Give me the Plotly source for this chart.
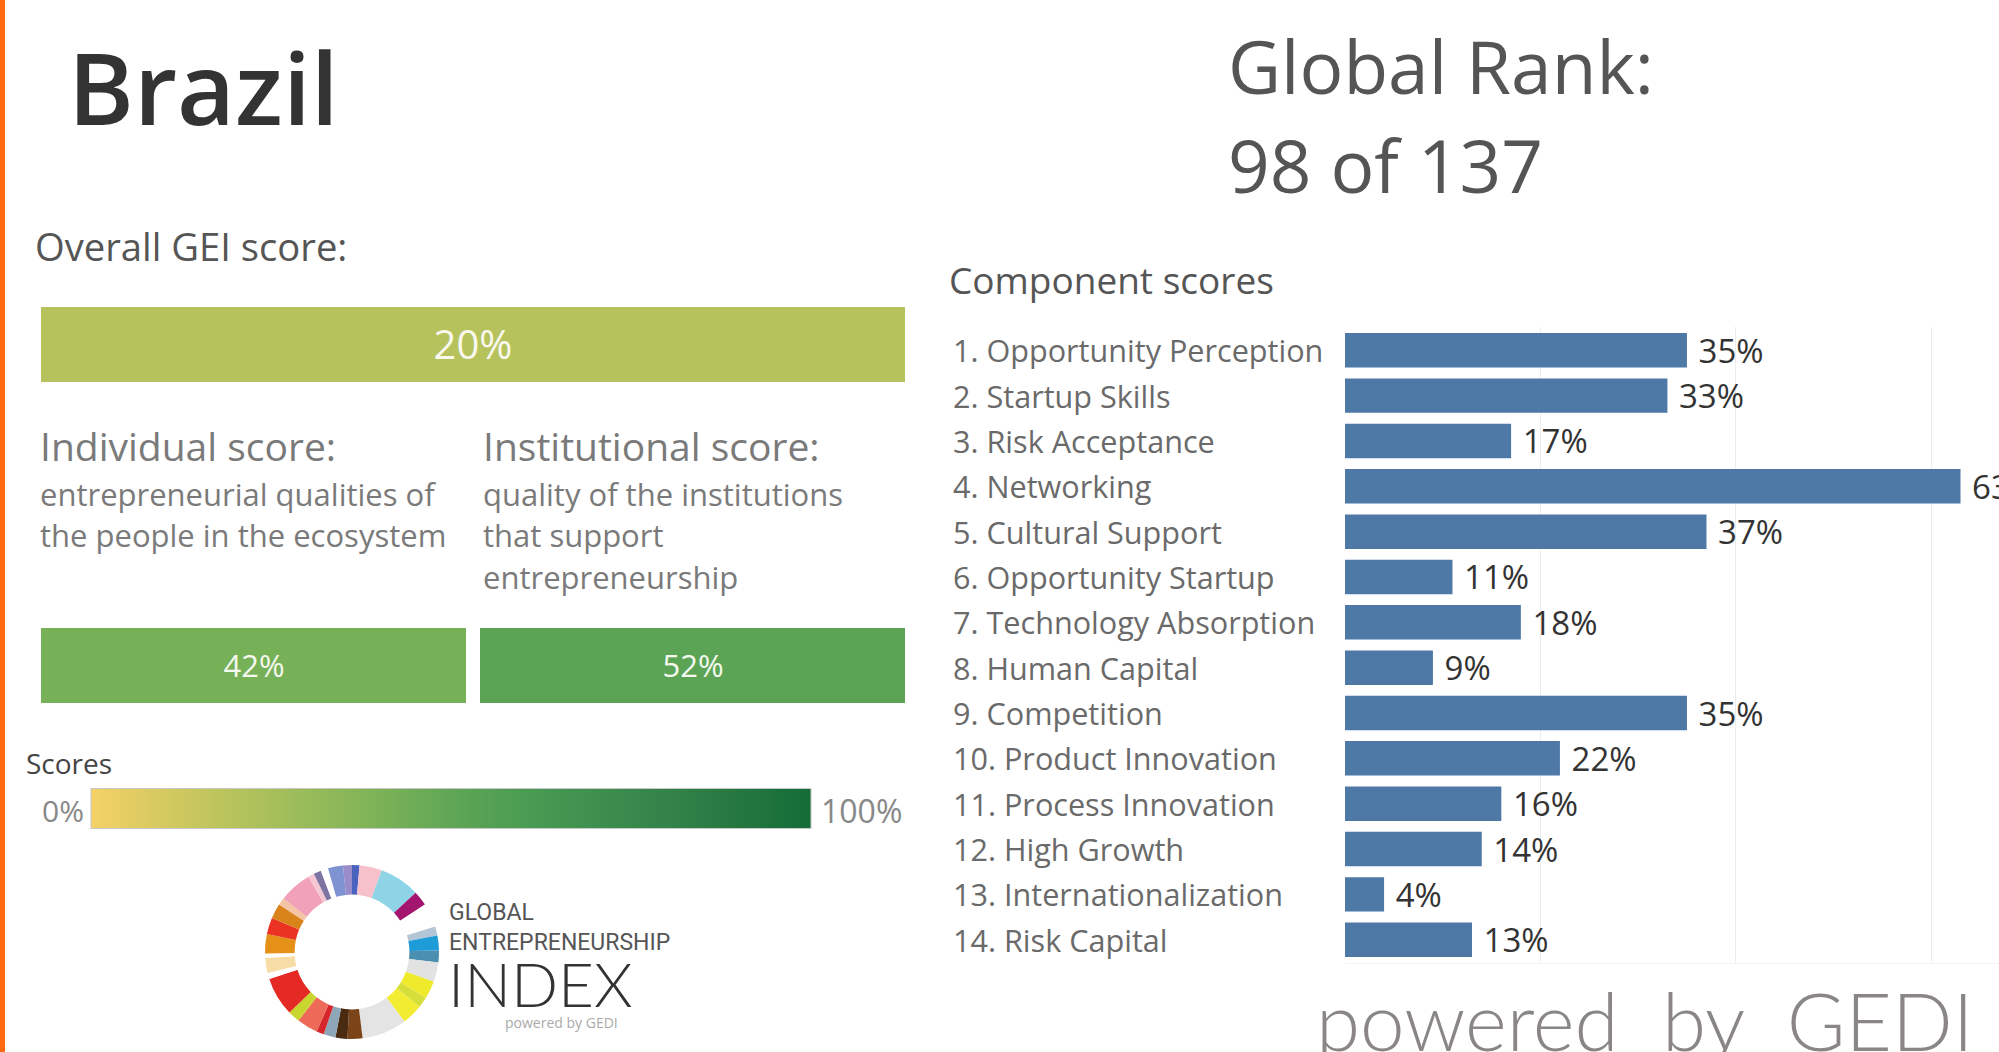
import plotly.graph_objects as go

W, H = 1999, 1052

# ---------------- data ----------------
country = "Brazil"
global_rank = 98
n_countries = 137
overall_label = ["Overall"]
overall_score = [20]
pillar_names = ["Individual", "Institutional"]
pillar_scores = [42, 52]
components = [
    "1. Opportunity Perception", "2. Startup Skills", "3. Risk Acceptance",
    "4. Networking", "5. Cultural Support", "6. Opportunity Startup",
    "7. Technology Absorption", "8. Human Capital", "9. Competition",
    "10. Product Innovation", "11. Process Innovation", "12. High Growth",
    "13. Internationalization", "14. Risk Capital",
]
component_scores = [35, 33, 17, 63, 37, 11, 18, 9, 35, 22, 16, 14, 4, 13]
grid_ticks = [0, 20, 40, 60]
score_scale_colors = ["#f4d166", "#d5ca60", "#b6c35c", "#98bb59", "#7cb257", "#60a656",
                      "#4b9c53", "#3f8f4f", "#33834a", "#257740", "#146c36"]
# decorative logo ring (segment sizes in degrees and colours)
logo_sizes = [5, 15, 27, 10, 16, 6, 10, 8, 13, 12, 7, 14, 30, 10, 8, 8, 5, 14, 8, 26,
              4, 10, 3, 13, 11, 10, 5, 22, 4, 5, 5, 10, 6]
logo_colors = ["#4A63BE", "#F7C1CC", "#8ED4E6", "#A3156E", "#FFFFFF", "#B4C6D6", "#1E9CD7",
               "#4A8FAF", "#E2E2E2", "#F0EA2C", "#D6DE3A", "#F2EC33", "#E4E4E4", "#7A4318",
               "#4B2A12", "#8DA6B8", "#D6262C", "#EC6A57", "#C8D62F", "#E52A26", "#FFFFFF",
               "#F8DCA6", "#FFFFFF", "#E59016", "#EA3323", "#D8841A", "#F5C4A4", "#F2A2B8",
               "#F5C7D2", "#7D74A2", "#FFFFFF", "#7F92D2", "#9A8BCB"]


def fx(x):
    return x / W


def fy(y):
    return 1 - y / H


FONT = "Open Sans"
n = len(score_scale_colors)
colorscale = [[i / (n - 1), c] for i, c in enumerate(score_scale_colors)]

fig = go.Figure()

# Overall GEI score box
fig.add_trace(go.Heatmap(
    z=[overall_score], x=overall_label, y=["GEI"], coloraxis="coloraxis",
    texttemplate="%{z}%", textfont=dict(size=40, color="#F8F8EE", family=FONT),
    xaxis="x2", yaxis="y2", hoverinfo="skip"))

# Individual / Institutional boxes
fig.add_trace(go.Heatmap(
    z=[pillar_scores], x=pillar_names, y=["pillar"], coloraxis="coloraxis",
    texttemplate="%{z}%", textfont=dict(size=31, color="#F4F8EE", family=FONT),
    xgap=14, xaxis="x3", yaxis="y3", hoverinfo="skip"))

# Component scores bar chart
fig.add_trace(go.Bar(
    x=component_scores, y=components, orientation="h",
    marker=dict(color="#4E79A7", line=dict(width=0)),
    texttemplate=" %{x}%", textposition="outside", cliponaxis=False,
    constraintext="none",
    textfont=dict(size=33, color="#333333", family=FONT),
    xaxis="x", yaxis="y", hoverinfo="skip"))

# Logo ring
fig.add_trace(go.Pie(
    values=logo_sizes, marker=dict(colors=logo_colors, line=dict(width=0)),
    hole=0.66, sort=False, direction="clockwise", rotation=0,
    textinfo="none", hoverinfo="skip", showlegend=False,
    domain=dict(x=[fx(265), fx(439)], y=[fy(1039), fy(865)])))

x0_bar = 1345
px_per_pct = 9.77
annotations = []

# component labels
for c in components:
    annotations.append(dict(x=fx(951), xref="paper", xanchor="left", y=c, yref="y",
                            yanchor="middle", text=c, showarrow=False,
                            font=dict(size=30.6, color="#6a6a6a", family=FONT)))


def txt(x, y, text, size, color, xanchor="left", weight=None, family=FONT):
    f = dict(size=size, color=color, family=family)
    if weight:
        f["weight"] = weight
    annotations.append(dict(x=fx(x), y=fy(y), xref="paper", yref="paper", text=text,
                            xanchor=xanchor, yanchor="middle", align="left",
                            showarrow=False, font=f))


txt(66, 86, country, 100, "#333333", weight=600)
txt(1226, 65, "Global Rank:", 73, "#555555")
txt(1226, 164, f"{global_rank} of {n_countries}", 73, "#555555")
txt(33, 246, "Overall GEI score:", 38.2, "#555555")
txt(38, 445, "Individual score:", 39, "#7a7a7a")
txt(38, 494, "entrepreneurial qualities of", 31, "#7a7a7a")
txt(38, 535, "the people in the ecosystem", 31, "#7a7a7a")
txt(481, 445, "Institutional score:", 39, "#7a7a7a")
txt(481, 494, "quality of the institutions", 31, "#7a7a7a")
txt(481, 535, "that support", 31, "#7a7a7a")
txt(481, 577, "entrepreneurship", 31, "#7a7a7a")
txt(947, 279, "Component scores", 37, "#555555")
txt(24, 763, "Scores", 28, "#444444")
txt(86, 810, "0%", 30, "#888888", xanchor="right")
txt(819, 810, "100%", 32, "#888888")
txt(447, 927, "GLOBAL<br>ENTREPRENEURSHIP", 23, "#555555", family="Roboto")
txt(446, 983, "INDEX", 62, "#333333", weight=300, family="Lato")
txt(561, 1022, "powered by GEDI", 14, "#aaaaaa", xanchor="center", family="Open Sans")
txt(1314, 1020, "powered\u00a0\u00a0by\u00a0\u00a0GEDI", 80, "#8a8686", weight=300,
    family="Lato")

shapes = [dict(type="rect", xref="paper", yref="paper", x0=0, x1=fx(5), y0=0, y1=1,
               fillcolor="#FF6A10", line=dict(width=0), layer="above")]

top, bottom = 327.3, 962.7
fig.update_layout(
    width=W, height=H, margin=dict(l=0, r=0, t=0, b=0),
    paper_bgcolor="white", plot_bgcolor="white", showlegend=False,
    font=dict(family=FONT),
    bargap=0.24,
    xaxis=dict(domain=[fx(x0_bar), 1], range=[0, (W - x0_bar) / px_per_pct],
               tickvals=grid_ticks, showticklabels=False, showgrid=True,
               gridcolor="#ececec", gridwidth=1, zeroline=False,
               showline=True, linecolor="#f2f2f2", ticks=""),
    yaxis=dict(domain=[fy(bottom), fy(top)], autorange="reversed",
               showticklabels=False, showgrid=False, zeroline=False,
               showline=False, ticks=""),
    xaxis2=dict(domain=[fx(41), fx(905)], visible=False),
    yaxis2=dict(domain=[fy(382), fy(307)], visible=False),
    xaxis3=dict(domain=[fx(34), fx(912)], visible=False),
    yaxis3=dict(domain=[fy(703), fy(628)], visible=False),
    coloraxis=dict(colorscale=colorscale, cmin=0, cmax=100,
                   colorbar=dict(orientation="h", x=fx(451), xanchor="center",
                                 y=fy(809), yanchor="middle", len=720, lenmode="pixels",
                                 thickness=40, thicknessmode="pixels",
                                 outlinewidth=1, outlinecolor="#c8c8c8",
                                 showticklabels=False, ticks="", xpad=0, ypad=0,
                                 borderwidth=0)),
    annotations=annotations, shapes=shapes,
)

fig.write_html("out.html")
